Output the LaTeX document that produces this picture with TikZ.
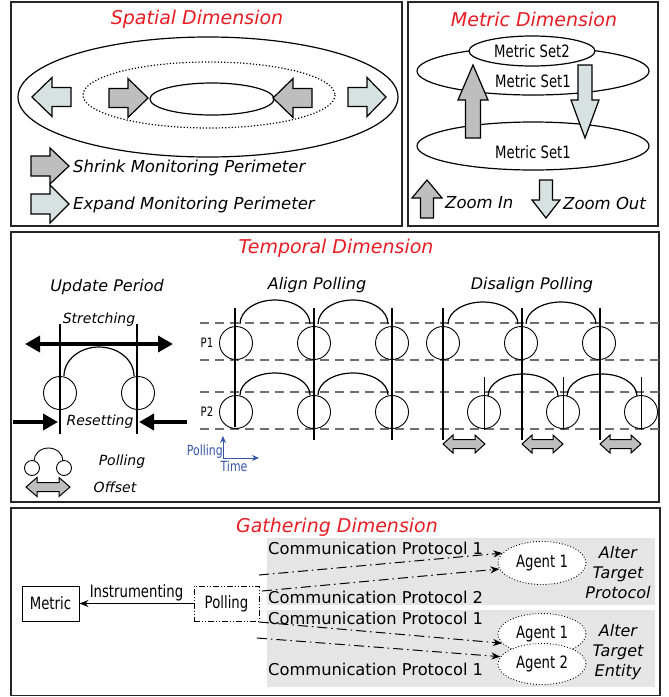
\documentclass[tikz,border=0pt]{standalone}
\usepackage{fontspec}
\setmainfont{DejaVu Sans}[ItalicFont={DejaVu Sans Oblique}]
\newfontfamily\narrowfont{DejaVu Sans}[FakeStretch=0.78]
\usetikzlibrary{shapes.geometric, arrows.meta, positioning, math, calc}

\definecolor{titleRed}{RGB}{233,28,36}
\definecolor{shrinkGray}{RGB}{190,190,190}
\definecolor{expandBlue}{RGB}{215,225,225}
\definecolor{bandGray}{RGB}{229,229,229}
\definecolor{axisBlue}{RGB}{55,85,170}
\definecolor{dashGray}{RGB}{110,110,110}

\begin{document}
\begin{tikzpicture}[x=1pt, y=-1pt,
		pics/blockArrow/.style args={#1/#2/#3/#4}{code={
			\draw[pic actions] (0,-#4) -- (#1-#2,-#4) -- (#1-#2,-#3) -- (#1,0) --
				(#1-#2,#3) -- (#1-#2,#4) -- (0,#4) -- cycle;
		}},
		pics/doubleArrow/.style args={#1/#2/#3/#4}{code={
			\draw[pic actions] (0,0) -- (#2,-#3) -- (#2,-#4) -- (#1-#2,-#4) -- (#1-#2,-#3) --
				(#1,0) -- (#1-#2,#3) -- (#1-#2,#4) -- (#2,#4) -- (#2,#3) -- cycle;
		}}
	]
	\tikzmath{
		\r  = 16.5;  %polling circle radius
		\rx = 35;    %polling arc half width
		\ry = 22;    %polling arc height
	}
	\tikzstyle{Panel} = [draw=black!85, line width=1.4pt]
	\tikzstyle{Title} = [text=titleRed, font=\fontsize{19}{23}\selectfont\itshape]
	\tikzstyle{Caption} = [font=\fontsize{16}{19}\selectfont\itshape]
	\tikzstyle{Legend} = [anchor=west, inner sep=0pt, font=\fontsize{16.5}{19}\selectfont\itshape]
	\tikzstyle{SmallCaption} = [font=\fontsize{14}{17}\selectfont\itshape]
	\tikzstyle{Label} = [font=\narrowfont\fontsize{17}{20}\selectfont]
	\tikzstyle{Outline} = [line width=1.2pt]
	\tikzstyle{shrinkArrow} = [draw=black, fill=shrinkGray, line width=1.2pt]
	\tikzstyle{expandArrow} = [draw=black, fill=expandBlue, line width=1.2pt]
	\tikzstyle{Poll} = [line width=0.9pt]
	\tikzstyle{Bar} = [line width=2.8pt]
	\tikzstyle{Tick} = [line width=0.9pt]
	\tikzstyle{Grid} = [dashGray, line width=1.1pt, dash pattern=on 9pt off 6pt]
	\tikzstyle{Push} = [line width=3.5pt, -{Triangle[length=15pt,width=16pt]}]
	\tikzstyle{PushBoth} = [line width=3.5pt, {Triangle[length=15pt,width=16pt]}-{Triangle[length=15pt,width=16pt]}]
	\tikzstyle{Box} = [draw, line width=0.9pt, minimum width=57pt, minimum height=35pt,
		font=\narrowfont\fontsize{17}{20}\selectfont]
	\tikzstyle{Agent} = [ellipse, draw, dotted, fill=white, line width=0.9pt, minimum width=88pt,
		minimum height=43pt, inner sep=1pt, font=\narrowfont\fontsize{17}{20}\selectfont]
	\tikzstyle{Proto} = [line width=1pt, dash pattern=on 10pt off 4pt on 1.5pt off 4pt,
		-{Stealth[length=9pt,width=7pt]}]
	\tikzstyle{Axis} = [axisBlue, line width=1pt, -{Stealth[length=7pt,width=6pt]}]

	\useasboundingbox (0,0) rectangle (669,697);

	% panels
	\draw[Panel] (11,2) rectangle (402,226);
	\draw[Panel] (408,2) rectangle (658,226);
	\draw[Panel] (11,232) rectangle (659,502);
	\draw[Panel] (11,508) rectangle (660,695.5);

	% spatial dimension
	\node[Title] (spatialTitle) at (197,19) {Spatial Dimension};
	\draw[Outline] (208,97) ellipse (190 and 60);
	\draw[Outline, dotted] (209,95) ellipse (126 and 33);
	\draw[Outline] (212,99) ellipse (62 and 16);
	\pic[expandArrow, rotate=180] at (71,97) {blockArrow=39/20/19.5/9.5};
	\pic[shrinkArrow] at (109,98) {blockArrow=39/20/19.5/9.5};
	\pic[shrinkArrow, rotate=180] at (312,98) {blockArrow=39/20/19.5/9.5};
	\pic[expandArrow] at (348,97) {blockArrow=38/19/19.5/9.5};
	\pic[shrinkArrow] at (31,166) {blockArrow=38/19/18/10};
	\node[Legend] (shrinkText) at (73,168) {Shrink Monitoring Perimeter};
	\pic[expandArrow] at (31,204) {blockArrow=38/19/19/10};
	\node[Legend] (expandText) at (73,205) {Expand Monitoring Perimeter};

	% metric dimension
	\node[Title] (metricTitle) at (534,19) {Metric Dimension};
	\draw[Outline, fill=white] (533,71) ellipse (116 and 24);
	\node[Label] (setOneUp) at (533,81) {Metric Set1};
	\node[ellipse, draw, Outline, fill=white, minimum width=126pt, minimum height=30pt,
		inner sep=1pt, Label] (setTwo) at (532,51) {Metric Set2};
	\draw[Outline, fill=white] (533,146) ellipse (116 and 24);
	\node[Label] (setOneDown) at (533,152) {Metric Set1};
	\pic[shrinkArrow, rotate=90] at (473,138) {blockArrow=73/35/15/7.5};
	\pic[expandArrow, rotate=-90] at (585,65) {blockArrow=73/38/14/7};
	\pic[shrinkArrow, rotate=90] at (427,218) {blockArrow=38/18/15/6.5};
	\node[Legend] (zoomInText) at (445,203) {Zoom In};
	\pic[expandArrow, rotate=-90] at (546,180) {blockArrow=38/18/14/6.5};
	\node[Legend] (zoomOutText) at (563,203) {Zoom Out};

	% temporal dimension
	\node[Title] (temporalTitle) at (336,248) {Temporal Dimension};
	\node[Caption] (updateTitle) at (107,287) {Update Period};
	\node[Caption] (alignTitle) at (317,285) {Align Polling};
	\node[Caption] (disalignTitle) at (532,285) {Disalign Polling};

	\draw[Grid] (200,323) -- (659,323);
	\draw[Grid] (200,360) -- (659,360);
	\draw[Grid] (200,392) -- (659,392);
	\draw[Grid] (200,429) -- (659,429);
	\node[font=\narrowfont\fontsize{13}{15}\selectfont] (pOne) at (207,343) {P1};
	\node[font=\narrowfont\fontsize{13}{15}\selectfont] (pTwo) at (207,412) {P2};

	% update period
	\node[SmallCaption] (stretchText) at (99,320) {Stretching};
	\draw[Bar] (60,324) -- (60,434);
	\draw[Bar] (137,324) -- (137,434);
	\coordinate (stretchL) at (25,344);
	\coordinate (stretchR) at (173,344);
	\draw[PushBoth] (stretchL) -- (stretchR);
	\draw[Poll] (60,393) circle (\r);
	\draw[Poll] (138,393) circle (\r);
	\draw[Outline] (64,376) arc[start angle=180, end angle=360, x radius=35, y radius=29];
	\node[SmallCaption] (resetText) at (100,422) {Resetting};
	\coordinate (resetL) at (13,422);
	\coordinate (resetR) at (187,422);
	\draw[Push] (resetL) -- (58,422);
	\draw[Push] (resetR) -- (139,422);
	\draw[Poll] (32,468) circle (7.5);
	\draw[Poll] (64,468) circle (7.5);
	\draw[Poll] (34,461) arc[start angle=180, end angle=360, x radius=14.5, y radius=13];
	\node[SmallCaption] (pollingText) at (122,462) {Polling};
	\pic[shrinkArrow, line width=1pt] at (26,487) {doubleArrow=44/11/9.5/4.5};
	\node[SmallCaption] (offsetText) at (115,487) {Offset};

	% align polling
	\draw[Poll] (236,343) circle (\r);
	\draw[Poll] (314,343) circle (\r);
	\draw[Poll] (392,343) circle (\r);
	\draw[Poll] (236,412) circle (\r);
	\draw[Poll] (314,412) circle (\r);
	\draw[Poll] (392,412) circle (\r);
	\draw[Bar] (235,308) -- (235,427);
	\draw[Bar] (314,308) -- (314,440);
	\draw[Bar] (392,308) -- (392,440);
	\draw[Outline] (240,324) arc[start angle=180, end angle=360, x radius=\rx, y radius=24];
	\draw[Outline] (318,324) arc[start angle=180, end angle=360, x radius=\rx, y radius=24];
	\draw[Outline] (240,395) arc[start angle=180, end angle=360, x radius=\rx, y radius=\ry];
	\draw[Outline] (318,395) arc[start angle=180, end angle=360, x radius=\rx, y radius=\ry];

	% disalign polling
	\draw[Poll] (443,343) circle (\r);
	\draw[Poll] (521,343) circle (\r);
	\draw[Poll] (599,343) circle (\r);
	\draw[Poll] (484,412) circle (\r);
	\draw[Poll] (563,412) circle (\r);
	\draw[Poll] (641,412) circle (\r);
	\draw[Bar] (443,308) -- (443,440);
	\draw[Bar] (522,308) -- (522,440);
	\draw[Bar] (600,308) -- (600,440);
	\draw[Tick] (484,377) -- (484,430);
	\draw[Tick] (563,377) -- (563,430);
	\draw[Tick] (641,377) -- (641,430);
	\draw[Outline] (448,324) arc[start angle=180, end angle=360, x radius=\rx, y radius=\ry];
	\draw[Outline] (526,324) arc[start angle=180, end angle=360, x radius=\rx, y radius=\ry];
	\draw[Outline] (488,396) arc[start angle=180, end angle=360, x radius=\rx, y radius=\ry];
	\draw[Outline] (567,396) arc[start angle=180, end angle=360, x radius=\rx, y radius=\ry];
	\pic[shrinkArrow, line width=1pt] at (443,444) {doubleArrow=42/10/9/4.5};
	\pic[shrinkArrow, line width=1pt] at (522,444) {doubleArrow=41/10/9/4.5};
	\pic[shrinkArrow, line width=1pt] at (600,444) {doubleArrow=41/10/9/4.5};

	% polling / time axes
	\coordinate (axisO) at (223,458);
	\coordinate (axisUp) at (223,436);
	\coordinate (axisRight) at (259,458);
	\draw[Axis] (axisO) -- (axisUp);
	\draw[Axis] (axisO) -- (axisRight);
	\node[anchor=east, inner sep=0pt, text=axisBlue, font=\narrowfont\fontsize{14}{16}\selectfont]
		(axisPolling) at (223,452) {Polling};
	\node[text=axisBlue, inner sep=0pt, font=\narrowfont\fontsize{14}{16}\selectfont]
		(axisTime) at (234,466) {Time};

	% gathering dimension
	\node[Title] (gatherTitle) at (337,527) {Gathering Dimension};
	\fill[bandGray] (267,538) rectangle (655,605);
	\fill[bandGray] (267,610) rectangle (655,687);
	\node[Box] (metric) at (50.5,603.5) {Metric};
	\node[Box, minimum width=65pt, dash pattern=on 6pt off 2pt on 1pt off 2pt on 1pt off 2pt]
		(polling) at (226.5,603.5) {Polling};
	\draw[line width=0.9pt, -{Stealth[length=9pt,width=7pt]}] (polling) --
		node[above, Label, inner sep=2pt] (instrText) {Instrumenting} (metric);

	\node[anchor=west, inner sep=0pt, font=\fontsize{16.3}{19}\selectfont] (protoA) at (268,548) {Communication Protocol 1};
	\node[anchor=west, inner sep=0pt, font=\fontsize{16.3}{19}\selectfont] (protoB) at (268,597) {Communication Protocol 2};
	\node[anchor=west, inner sep=0pt, font=\fontsize{16.3}{19}\selectfont] (protoC) at (268,618) {Communication Protocol 1};
	\node[anchor=west, inner sep=0pt, font=\fontsize{16.3}{19}\selectfont] (protoD) at (268,669) {Communication Protocol 1};

	\node[Agent] (agentA) at (542,563) {Agent 1};
	\node[Agent, minimum height=41pt] (agentB) at (542,634) {Agent 1};
	\node[Agent, minimum height=41pt] (agentC) at (542,664) {Agent 2};
	\node[align=center, font=\fontsize{16}{20}\selectfont\itshape] (alterProtocol) at (618,573) {Alter\\Target\\Protocol};
	\node[align=center, font=\fontsize{16}{20}\selectfont\itshape] (alterEntity) at (618,652) {Alter\\Target\\Entity};

	\coordinate (protoStartA) at (259,575);
	\coordinate (protoStartB) at (262,591);
	\coordinate (protoStartC) at (259,622);
	\coordinate (protoStartD) at (257,638);
	\draw[Proto] (protoStartA) -- (agentA.166);
	\draw[Proto] (protoStartB) -- (agentA.188);
	\draw[Proto] (protoStartC) -- (agentB.193);
	\draw[Proto] (protoStartD) -- (agentC.170);
\end{tikzpicture}
\end{document}
